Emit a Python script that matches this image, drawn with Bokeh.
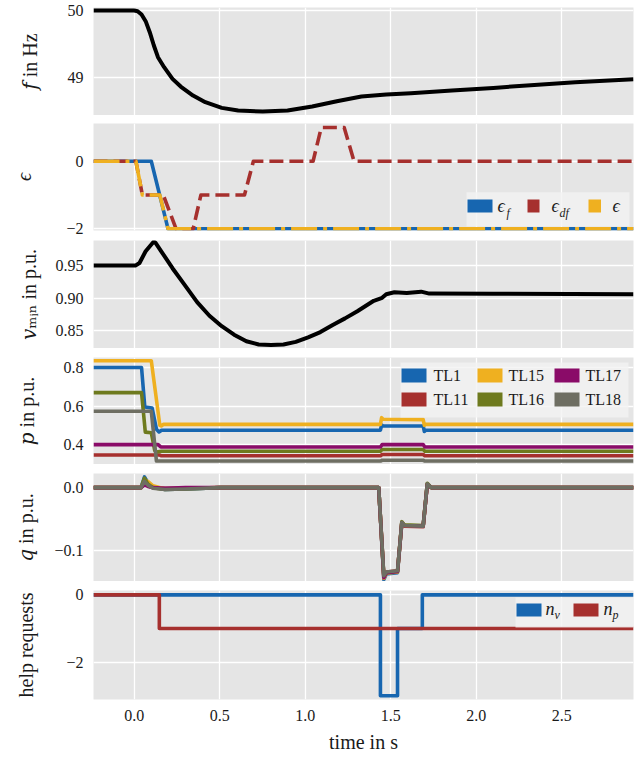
from bokeh.plotting import figure
from bokeh.layouts import column
from bokeh.models import Label, BoxAnnotation, Range1d, FixedTicker
from bokeh.embed import file_html
from bokeh.resources import INLINE

SERIF = "Liberation Serif"
LABEL_FONT = "'Liberation Serif', 'DejaVu Serif', serif"
TXT = "#1a1a1a"

# ---------------- data ----------------
T_START, T_END = -0.238, 2.92
x_ticks = [0.0, 0.5, 1.0, 1.5, 2.0, 2.5]
x_tick_labels = ["0.0", "0.5", "1.0", "1.5", "2.0", "2.5"]
y_axis_labels = ["\U0001D453 in Hz", "\u03f5", "\U0001D463\u2098\u1D62\u2099 in p.u.",
                 "\U0001D45D in p.u.", "\U0001D45E in p.u.", "help requests"]

# frequency
f_t = [T_START, 0.0, 0.02, 0.043, 0.067, 0.091, 0.115, 0.139, 0.175, 0.224, 0.272, 0.344,
       0.416, 0.512, 0.608, 0.752, 0.897, 1.041, 1.185, 1.329, 1.474, 1.618, 1.858, 2.1,
       2.34, 2.58, T_END]
f_hz = [50.0, 50.0, 49.99, 49.94, 49.84, 49.675, 49.475, 49.3, 49.15, 48.975, 48.86, 48.725,
        48.625, 48.54, 48.5, 48.485, 48.5, 48.56, 48.64, 48.71, 48.74, 48.76, 48.8, 48.84,
        48.885, 48.925, 48.97]

# epsilon signals
eps_f_t = [T_START, 0.10, 0.198, T_END]
eps_f = [0, 0, -2, -2]
eps_df_t = [T_START, 0.01, 0.048, 0.17, 0.245, 0.345, 0.39, 0.645, 0.697, 1.046, 1.094,
            1.228, 1.286, T_END]
eps_df = [0, 0, -1, -1, -2, -2, -1, -1, 0, 0, 1, 1, 0, 0]
eps_t = [T_START, 0.01, 0.048, 0.15, 0.198, T_END]
eps = [0, 0, -1, -1, -2, -2]

# minimum voltage
v_t = [T_START, 0.007, 0.031, 0.067, 0.115, 0.125, 0.163, 0.224, 0.296, 0.368, 0.44, 0.512,
       0.584, 0.656, 0.728, 0.8, 0.873, 0.945, 1.017, 1.089, 1.161, 1.233, 1.305, 1.401,
       1.45, 1.474, 1.522, 1.594, 1.678, 1.726, 2.1, T_END]
v_min = [0.95, 0.95, 0.954, 0.972, 0.987, 0.985, 0.970, 0.946, 0.920, 0.894, 0.873, 0.857,
         0.844, 0.834, 0.829, 0.828, 0.829, 0.833, 0.840, 0.848, 0.859, 0.869, 0.880, 0.896,
         0.9005, 0.906, 0.909, 0.908, 0.910, 0.907, 0.9068, 0.906]

# active power per load
p_names = ["TL1", "TL11", "TL15", "TL16", "TL17", "TL18"]
p_colors = ["#1766B0", "#A6302E", "#EFB020", "#6E7A1E", "#8A0B68", "#6E6E62"]
p_TL1_t = [T_START, 0.043, 0.062, 0.105, 0.13, 0.145, 0.16, 1.44, 1.447, 1.455, 1.69, 1.697, 1.705, T_END]
p_TL1 = [0.80, 0.80, 0.595, 0.59, 0.48, 0.466, 0.475, 0.475, 0.502, 0.497, 0.497, 0.468, 0.475, 0.475]
p_TL11_t = [T_START, 0.15, 0.16, 1.44, 1.45, 1.69, 1.70, T_END]
p_TL11 = [0.346, 0.346, 0.342, 0.342, 0.349, 0.349, 0.342, 0.342]
p_TL15_t = [T_START, 0.10, 0.15, 0.16, 0.17, 1.44, 1.447, 1.455, 1.69, 1.697, 1.705, T_END]
p_TL15 = [0.835, 0.835, 0.50, 0.497, 0.505, 0.505, 0.54, 0.532, 0.53, 0.50, 0.505, 0.505]
p_TL16_t = [T_START, 0.043, 0.065, 0.10, 0.12, 0.13, 0.16, 1.44, 1.45, 1.69, 1.70, T_END]
p_TL16 = [0.67, 0.67, 0.465, 0.462, 0.37, 0.362, 0.366, 0.366, 0.375, 0.375, 0.366, 0.366]
p_TL17_t = [T_START, 0.14, 0.155, 1.44, 1.45, 1.69, 1.70, T_END]
p_TL17 = [0.40, 0.40, 0.388, 0.388, 0.40, 0.40, 0.388, 0.388]
p_TL18_t = [T_START, 0.10, 0.13, 1.44, 1.45, 1.69, 1.70, T_END]
p_TL18 = [0.573, 0.573, 0.315, 0.315, 0.319, 0.319, 0.315, 0.315]

# reactive power per load
q_t = [T_START, 0.04, 0.06, 0.08, 0.11, 0.18, 0.3, 0.5, 1.43, 1.46, 1.475, 1.54, 1.565,
       1.58, 1.69, 1.714, 1.738, T_END]
q_TL1 = [0, 0, 0.017, 0.008, 0.001, -0.003, -0.002, 0, 0, -0.146, -0.137, -0.135, -0.056, -0.06, -0.061, 0.006, 0, 0]
q_TL11 = [0, 0, 0.006, 0.003, 0.0, -0.001, -0.001, 0, 0, -0.142, -0.134, -0.132, -0.057, -0.061, -0.062, 0.005, 0, 0]
q_TL15 = [0, 0, 0.012, 0.010, 0.003, -0.002, -0.001, 0, 0, -0.144, -0.136, -0.134, -0.055, -0.06, -0.061, 0.006, 0, 0]
q_TL16 = [0, 0, 0.015, 0.006, 0.0, -0.003, -0.002, 0, 0, -0.141, -0.135, -0.133, -0.054, -0.059, -0.06, 0.007, 0, 0]
q_TL17 = [0, 0, 0.004, 0.002, 0.0, -0.001, 0, 0, 0, -0.143, -0.135, -0.133, -0.056, -0.06, -0.061, 0.005, 0, 0]
q_TL18 = [0, 0, 0.010, 0.004, -0.001, -0.003, -0.002, 0, 0, -0.140, -0.134, -0.132, -0.055, -0.06, -0.061, 0.006, 0, 0]

# help requests
n_v_t = [T_START, 1.44, 1.44, 1.54, 1.54, 1.685, 1.685, T_END]
n_v = [0, 0, -3, -3, -1, -1, 0, 0]
n_p_t = [T_START, 0.147, 0.147, T_END]
n_p = [0, 0, -1, -1]

BLUE, RED, YELLOW = "#1766B0", "#A6302E", "#EFB020"

# ---------------- layout (page pixels) ----------------
FL, FW = 93, 540     # page x of frame left, frame width
panels = [
    dict(top=7,   h=108, bt=7, bb=0,  ylim=(48.426, 50.045), ticks=[49, 50], labels=["49", "50"], std=24),
    dict(top=123, h=107, bt=8, bb=10, ylim=(-2.05, 1.12), ticks=[-2, 0], labels=["\u22122", "0"], std=28),
    dict(top=240, h=108, bt=0, bb=0,  ylim=(0.8228, 0.9885), ticks=[0.85, 0.90, 0.95], labels=["0.85", "0.90", "0.95"], std=13),
    dict(top=357, h=107, bt=9, bb=0,  ylim=(0.297, 0.852), ticks=[0.4, 0.6, 0.8], labels=["0.4", "0.6", "0.8"], std=23),
    dict(top=473, h=108, bt=9, bb=0,  ylim=(-0.149, 0.0225), ticks=[-0.1, 0.0], labels=["\u22120.1", "0.0"], std=14),
    dict(top=590, h=109, bt=9, bb=0,  ylim=(-3.11, 0.13), ticks=[-2, 0], labels=["\u22122", "0"], std=26),
]

xr = Range1d(T_START, T_END)


def px2x(px):
    return T_START + (px - FL) / FW * (T_END - T_START)


def py2y(pan, py):
    y0, y1 = pan["ylim"]
    return y1 - (py - pan["top"]) / pan["h"] * (y1 - y0)


def add_box(p, pan, x0, x1, y0, y1, color, alpha=1.0):
    p.add_layout(BoxAnnotation(left=px2x(x0), right=px2x(x1), top=py2y(pan, y0), bottom=py2y(pan, y1),
                               fill_color=color, fill_alpha=alpha, line_color=None))


def add_text(p, pan, px, py, text, size, italic=False):
    p.add_layout(Label(x=px2x(px), y=py2y(pan, py), text=text, text_align="left",
                       text_baseline="middle", text_font=SERIF, text_font_size=f"{size}px",
                       text_font_style="italic" if italic else "normal", text_color=TXT))


def make_fig(pan, ylabel, last=False, italic_label=False):
    p = figure(frame_width=FW, frame_height=pan["h"], x_range=xr, y_range=Range1d(*pan["ylim"]),
               min_border_left=FL, min_border_right=644 - FL - FW,
               min_border_top=pan["bt"], min_border_bottom=pan["bb"],
               output_backend="svg", toolbar_location=None, title=None)
    p.background_fill_color = "#E5E5E5"
    p.border_fill_color = "white"
    p.outline_line_color = None
    p.xaxis.ticker = FixedTicker(ticks=x_ticks)
    p.xgrid.ticker = FixedTicker(ticks=x_ticks)
    p.yaxis.ticker = FixedTicker(ticks=pan["ticks"])
    p.ygrid.ticker = FixedTicker(ticks=pan["ticks"])
    for g in (p.xgrid, p.ygrid):
        g.grid_line_color = "white"
        g.grid_line_width = 1.3
    for ax in (p.xaxis, p.yaxis):
        ax.axis_line_color = None
        ax.major_tick_line_color = None
        ax.minor_tick_line_color = None
        ax.major_tick_out = 0
        ax.major_tick_in = 0
        ax.major_label_text_font = SERIF
        ax.major_label_text_font_size = "16px"
        ax.major_label_text_color = TXT
        ax.axis_label_text_font = LABEL_FONT
        ax.axis_label_text_font_size = "20px"
        ax.axis_label_text_color = TXT
    p.yaxis.major_label_overrides = dict(zip(pan["ticks"], pan["labels"]))
    p.yaxis.major_label_standoff = 10
    p.yaxis.axis_label = ylabel
    p.yaxis.axis_label_standoff = pan["std"]
    p.yaxis.axis_label_text_font_style = "italic" if italic_label else "normal"
    if last:
        p.xaxis.major_label_overrides = dict(zip(x_ticks, x_tick_labels))
        p.xaxis.major_label_standoff = 10
        p.xaxis.axis_label = "time in s"
        p.xaxis.axis_label_text_font_style = "normal"
        p.xaxis.axis_label_standoff = 7
    else:
        p.xaxis.visible = False
    return p


figs = []

# 1: frequency
pan = panels[0]
p1 = make_fig(pan, y_axis_labels[0])
p1.line(f_t, f_hz, line_color="black", line_width=4, line_join="round")
figs.append(p1)

# 2: epsilon
pan = panels[1]
p2 = make_fig(pan, y_axis_labels[1], italic_label=True)
p2.line(eps_f_t, eps_f, line_color=BLUE, line_width=3.6, line_join="round")
p2.line(eps_df_t, eps_df, line_color=RED, line_width=3.6, line_dash="14 6", line_join="round")
p2.line(eps_t, eps, line_color=YELLOW, line_width=3.6, line_dash="26 6 4 6", line_join="round")
add_box(p2, pan, 466, 629, 191.7, 226, "#F2F2F2", 0.8)
add_box(p2, pan, 467, 492, 199, 212, BLUE)
add_box(p2, pan, 527, 539, 199, 212, RED)
add_box(p2, pan, 588, 600.5, 199, 212, YELLOW)
add_text(p2, pan, 497, 205.5, "\u03f5", 18, True)
add_text(p2, pan, 506, 212.5, "f", 12, True)
add_text(p2, pan, 551, 205.5, "\u03f5", 18, True)
add_text(p2, pan, 559, 212.5, "df", 12, True)
add_text(p2, pan, 612, 205.5, "\u03f5", 18, True)
figs.append(p2)

# 3: minimum voltage
pan = panels[2]
p3 = make_fig(pan, y_axis_labels[2])
p3.line(v_t, v_min, line_color="black", line_width=4, line_join="round")
figs.append(p3)

# 4: active power
pan = panels[3]
p4 = make_fig(pan, y_axis_labels[3])
p_series = [(p_TL1_t, p_TL1), (p_TL11_t, p_TL11), (p_TL15_t, p_TL15),
            (p_TL16_t, p_TL16), (p_TL17_t, p_TL17), (p_TL18_t, p_TL18)]
for (tt, vv), c in zip(p_series, p_colors):
    p4.line(tt, vv, line_color=c, line_width=3.6, line_join="round")
add_box(p4, pan, 400, 628, 362, 417, "#F2F2F2", 0.8)
col_sw = [401, 477, 554]
col_tx = [433, 508, 585]
legend_rows = [(368, 382, 375), (392, 406, 399)]
for i, (name, c) in enumerate(zip(p_names, p_colors)):
    col, r = i // 2, i % 2
    y0, y1, yc = legend_rows[r]
    add_box(p4, pan, col_sw[col], col_sw[col] + 25, y0, y1, c)
    add_text(p4, pan, col_tx[col], yc, name, 16)
figs.append(p4)

# 5: reactive power
pan = panels[4]
p5 = make_fig(pan, y_axis_labels[4])
for qq, c in zip([q_TL1, q_TL11, q_TL15, q_TL16, q_TL17, q_TL18], p_colors):
    p5.line(q_t, qq, line_color=c, line_width=3.6, line_join="round")
figs.append(p5)

# 6: help requests
pan = panels[5]
p6 = make_fig(pan, y_axis_labels[5], last=True)
p6.line(n_v_t, n_v, line_color=BLUE, line_width=3.6, line_join="round")
p6.line(n_p_t, n_p, line_color=RED, line_width=3.6, line_join="round")
add_box(p6, pan, 515, 633, 597, 627, "#F2F2F2", 0.8)
add_box(p6, pan, 516, 541, 603, 616, BLUE)
add_box(p6, pan, 573, 598, 603, 616, RED)
add_text(p6, pan, 545, 608, "n", 18, True)
add_text(p6, pan, 554, 614, "v", 12, True)
add_text(p6, pan, 603, 608, "n", 18, True)
add_text(p6, pan, 612, 614, "p", 12, True)
figs.append(p6)

layout = column(*figs, spacing=0)
open("out.html", "w").write(file_html(layout, INLINE))
